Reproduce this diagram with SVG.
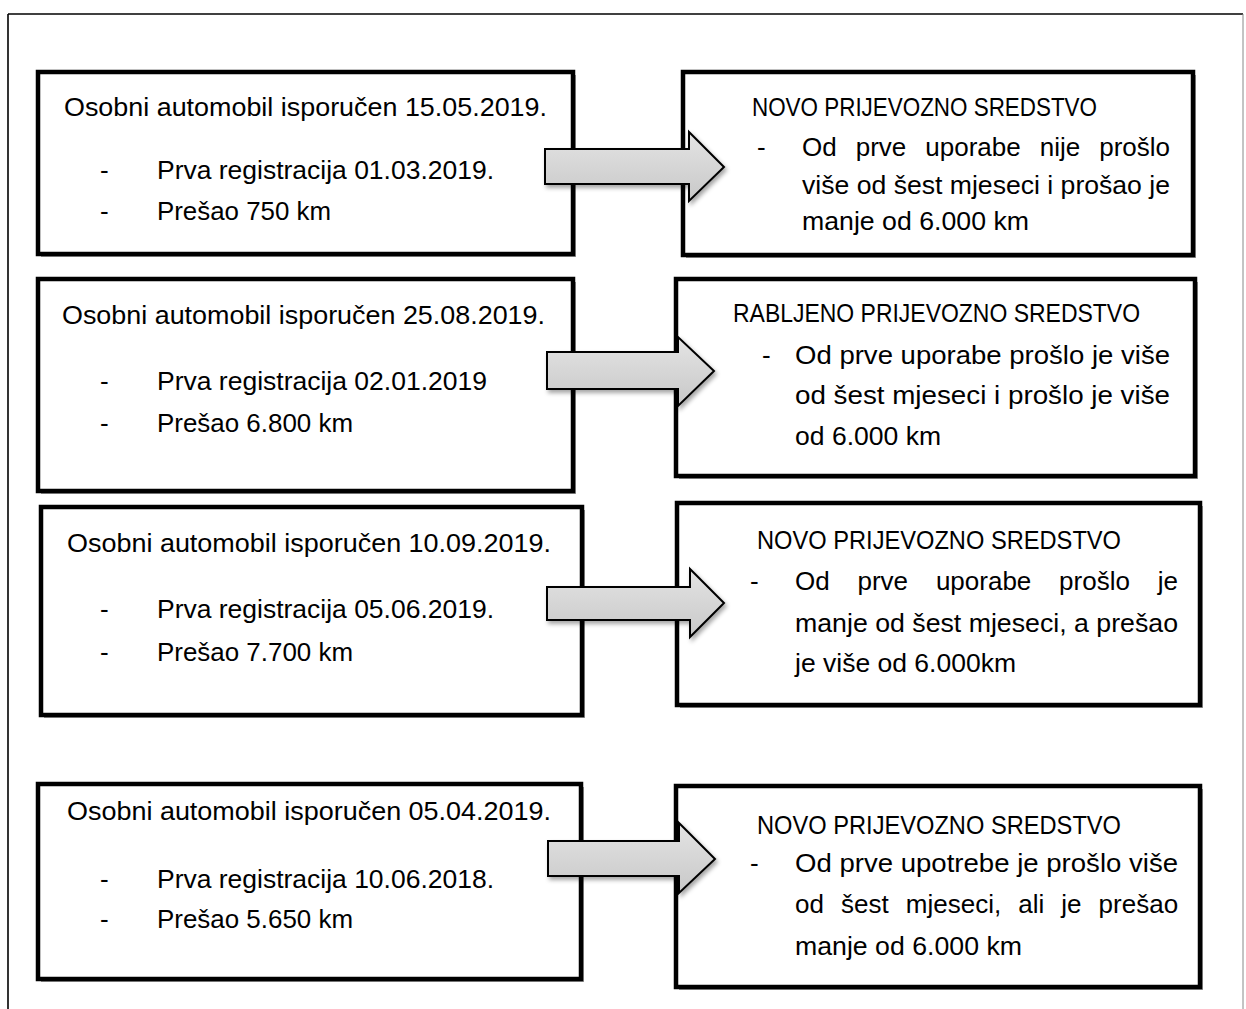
<svg xmlns="http://www.w3.org/2000/svg" width="1246" height="1009" viewBox="0 0 1246 1009">
<defs>
<linearGradient id="ag" x1="0" y1="0" x2="0" y2="1">
<stop offset="0" stop-color="#e4e4e4"/>
<stop offset="1" stop-color="#c8c8c8"/>
</linearGradient>
<filter id="sh" x="-10%" y="-20%" width="130%" height="150%">
<feDropShadow dx="2" dy="3" stdDeviation="2" flood-color="#000" flood-opacity="0.35"/>
</filter>
</defs>
<style>
.box{fill:#fff;stroke:#000;stroke-width:4.5}
.bs{fill:#9a9a9a}
.arr{fill:url(#ag);stroke:#000;stroke-width:2;filter:url(#sh)}
text{font-family:"Liberation Sans",Arial,sans-serif;font-size:26px;fill:#000}
</style>
<rect width="1246" height="1009" fill="#fff"/>
<g id="frame">
<line x1="8" y1="14" x2="1243" y2="14" stroke="#000" stroke-width="1.6"/>
<line x1="8" y1="14" x2="8" y2="1009" stroke="#000" stroke-width="1.6"/>
<line x1="1243" y1="14" x2="1243" y2="1009" stroke="#888" stroke-width="1"/>
</g>

<g id="L1">
<rect class="bs" x="41" y="75" width="535" height="182"/>
<rect class="box" x="38" y="72" width="535" height="182"/>
<text x="64" y="116" textLength="483" lengthAdjust="spacingAndGlyphs">Osobni automobil isporučen 15.05.2019.</text>
<text x="100" y="179">-</text>
<text x="157" y="179" textLength="337" lengthAdjust="spacingAndGlyphs">Prva registracija 01.03.2019.</text>
<text x="100" y="220">-</text>
<text x="157" y="220" textLength="174" lengthAdjust="spacingAndGlyphs">Prešao 750 km</text>
</g>

<g id="R1">
<rect class="bs" x="686" y="75" width="510" height="183"/>
<rect class="box" x="683" y="72" width="510" height="183"/>
<text x="752" y="116" textLength="345" lengthAdjust="spacingAndGlyphs">NOVO PRIJEVOZNO SREDSTVO</text>
<text x="757" y="156">-</text>
<text y="156"><tspan x="802">Od</tspan><tspan x="855.7">prve</tspan><tspan x="925.3">uporabe</tspan><tspan x="1039.7">nije</tspan><tspan x="1099.2">prošlo</tspan></text>
<text x="802" y="194" textLength="368" lengthAdjust="spacingAndGlyphs">više od šest mjeseci i prošao je</text>
<text x="802" y="230" textLength="227" lengthAdjust="spacingAndGlyphs">manje od 6.000 km</text>
</g>

<g id="L2">
<rect class="bs" x="41" y="282" width="535" height="212"/>
<rect class="box" x="38" y="279" width="535" height="212"/>
<text x="62" y="324" textLength="483" lengthAdjust="spacingAndGlyphs">Osobni automobil isporučen 25.08.2019.</text>
<text x="100" y="390">-</text>
<text x="157" y="390" textLength="330" lengthAdjust="spacingAndGlyphs">Prva registracija 02.01.2019</text>
<text x="100" y="432">-</text>
<text x="157" y="432" textLength="196" lengthAdjust="spacingAndGlyphs">Prešao 6.800 km</text>
</g>

<g id="R2">
<rect class="bs" x="679" y="282" width="519" height="197"/>
<rect class="box" x="676" y="279" width="519" height="197"/>
<text x="733" y="322" textLength="407" lengthAdjust="spacingAndGlyphs">RABLJENO PRIJEVOZNO SREDSTVO</text>
<text x="762" y="364">-</text>
<text x="795" y="364" textLength="375" lengthAdjust="spacingAndGlyphs">Od prve uporabe prošlo je više</text>
<text x="795" y="404" textLength="375" lengthAdjust="spacingAndGlyphs">od šest mjeseci i prošlo je više</text>
<text x="795" y="445" textLength="146" lengthAdjust="spacingAndGlyphs">od 6.000 km</text>
</g>

<g id="L3">
<rect class="bs" x="44" y="510" width="541" height="208"/>
<rect class="box" x="41" y="507" width="541" height="208"/>
<text x="67" y="552" textLength="484" lengthAdjust="spacingAndGlyphs">Osobni automobil isporučen 10.09.2019.</text>
<text x="100" y="618">-</text>
<text x="157" y="618" textLength="337" lengthAdjust="spacingAndGlyphs">Prva registracija 05.06.2019.</text>
<text x="100" y="661">-</text>
<text x="157" y="661" textLength="196" lengthAdjust="spacingAndGlyphs">Prešao 7.700 km</text>
</g>

<g id="R3">
<rect class="bs" x="680" y="506" width="523" height="202"/>
<rect class="box" x="677" y="503" width="523" height="202"/>
<text x="757" y="549" textLength="364" lengthAdjust="spacingAndGlyphs">NOVO PRIJEVOZNO SREDSTVO</text>
<text x="750" y="590">-</text>
<text y="590"><tspan x="795">Od</tspan><tspan x="857.5">prve</tspan><tspan x="935.9">uporabe</tspan><tspan x="1059.1">prošlo</tspan><tspan x="1157.7">je</tspan></text>
<text x="795" y="632" textLength="383" lengthAdjust="spacingAndGlyphs">manje od šest mjeseci, a prešao</text>
<text x="795" y="672" textLength="221" lengthAdjust="spacingAndGlyphs">je više od 6.000km</text>
</g>

<g id="L4">
<rect class="bs" x="41" y="787" width="543" height="195"/>
<rect class="box" x="38" y="784" width="543" height="195"/>
<text x="67" y="820" textLength="484" lengthAdjust="spacingAndGlyphs">Osobni automobil isporučen 05.04.2019.</text>
<text x="100" y="888">-</text>
<text x="157" y="888" textLength="337" lengthAdjust="spacingAndGlyphs">Prva registracija 10.06.2018.</text>
<text x="100" y="928">-</text>
<text x="157" y="928" textLength="196" lengthAdjust="spacingAndGlyphs">Prešao 5.650 km</text>
</g>

<g id="R4">
<rect class="bs" x="679" y="789" width="524" height="201"/>
<rect class="box" x="676" y="786" width="524" height="201"/>
<text x="757" y="834" textLength="364" lengthAdjust="spacingAndGlyphs">NOVO PRIJEVOZNO SREDSTVO</text>
<text x="750" y="872">-</text>
<text x="795" y="872" textLength="383" lengthAdjust="spacingAndGlyphs">Od prve upotrebe je prošlo više</text>
<text y="913"><tspan x="795">od</tspan><tspan x="841">šest</tspan><tspan x="905.8">mjeseci,</tspan><tspan x="1018.2">ali</tspan><tspan x="1061.3">je</tspan><tspan x="1098.6">prešao</tspan></text>
<text x="795" y="955" textLength="227" lengthAdjust="spacingAndGlyphs">manje od 6.000 km</text>
</g>

<g id="connectors">
<path class="arr" d="M545,149 H689 V132 L724,167 L689,201 V184 H545 Z"/>
<path class="arr" d="M547,352 H678 V337 L714,371 L678,406 V389 H547 Z"/>
<path class="arr" d="M547,587 H690 V569 L724,603 L690,637 V620 H547 Z"/>
<path class="arr" d="M548,841 H679 V823 L715,859 L679,893 V876 H548 Z"/>
</g>
</svg>
